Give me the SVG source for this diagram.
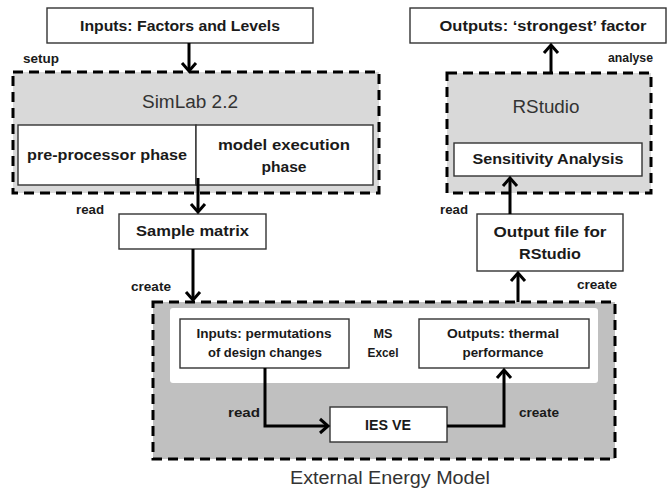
<svg xmlns="http://www.w3.org/2000/svg" width="668" height="492" viewBox="0 0 668 492">
<defs>
<style>
.grp{stroke:#000;stroke-width:3;stroke-dasharray:10 6}
.box{fill:#fff;stroke:#333;stroke-width:1.4}
.t{font-family:"Liberation Sans",Arial,sans-serif;font-weight:bold;fill:#1a1a1a;text-anchor:middle}
.lbl{font-family:"Liberation Sans",Arial,sans-serif;font-weight:bold;fill:#1a1a1a;font-size:12px}
.big{font-family:"Liberation Sans",Arial,sans-serif;fill:#333;font-size:18px;text-anchor:middle}
.c{fill:none;stroke:#000;stroke-width:3}
</style>
<marker id="ah" viewBox="0 0 14 16" refX="10" refY="8" markerWidth="14" markerHeight="16" markerUnits="userSpaceOnUse" orient="auto" overflow="visible">
<path d="M2,1 L10,8 L2,15" fill="none" stroke="#000" stroke-width="3"/>
</marker>
</defs>
<rect width="668" height="492" fill="#fff"/>

<g id="inputs-factors">
<rect class="box" x="47" y="8" width="266" height="35"/>
<text class="t" x="180" y="31" font-size="15" textLength="200" lengthAdjust="spacingAndGlyphs">Inputs: Factors and Levels</text>
</g>

<g id="outputs-strongest">
<rect class="box" x="410" y="8" width="256" height="35"/>
<text class="t" x="543" y="31" font-size="15" textLength="207" lengthAdjust="spacingAndGlyphs">Outputs: ‘strongest’ factor</text>
</g>

<g id="simlab">
<rect class="grp" x="13" y="72" width="366" height="121" fill="#d9d9d9"/>
<text class="big" x="190" y="108" textLength="96" lengthAdjust="spacingAndGlyphs">SimLab 2.2</text>
<g id="pre-processor">
<rect class="box" x="18" y="125" width="178" height="60"/>
<text class="t" x="107" y="160" font-size="15" textLength="160" lengthAdjust="spacingAndGlyphs">pre-processor phase</text>
</g>
<g id="model-execution">
<rect class="box" x="196" y="125" width="177" height="60"/>
<text class="t" x="284" y="150" font-size="15" textLength="132" lengthAdjust="spacingAndGlyphs">model execution</text>
<text class="t" x="284" y="172" font-size="15" textLength="45" lengthAdjust="spacingAndGlyphs">phase</text>
</g>
</g>

<g id="rstudio">
<rect class="grp" x="447" y="73" width="204" height="120" fill="#d9d9d9"/>
<text class="big" x="546" y="113" textLength="67" lengthAdjust="spacingAndGlyphs">RStudio</text>
<g id="sensitivity">
<rect class="box" x="454" y="143" width="188" height="33"/>
<text class="t" x="548" y="164" font-size="15" textLength="151" lengthAdjust="spacingAndGlyphs">Sensitivity Analysis</text>
</g>
</g>

<g id="sample-matrix">
<rect class="box" x="119" y="214" width="147" height="35"/>
<text class="t" x="192.5" y="236" font-size="15" textLength="113" lengthAdjust="spacingAndGlyphs">Sample matrix</text>
</g>

<g id="output-file">
<rect class="box" x="477" y="214" width="146" height="57"/>
<text class="t" x="550" y="237" font-size="15" textLength="113" lengthAdjust="spacingAndGlyphs">Output file for</text>
<text class="t" x="550" y="259" font-size="15" textLength="62" lengthAdjust="spacingAndGlyphs">RStudio</text>
</g>

<g id="external-energy-model">
<rect class="grp" x="153" y="302" width="462" height="157" fill="#c0c0c0"/>
<rect x="170" y="308" width="428" height="75" rx="3" fill="#fff"/>
<text class="big" x="390" y="484" textLength="200" lengthAdjust="spacingAndGlyphs">External Energy Model</text>
<g id="inputs-permutations">
<rect class="box" x="180" y="319" width="169" height="49"/>
<text class="t" x="264" y="338" font-size="13" textLength="135" lengthAdjust="spacingAndGlyphs">Inputs: permutations</text>
<text class="t" x="265" y="357" font-size="13" textLength="114" lengthAdjust="spacingAndGlyphs">of design changes</text>
</g>
<g id="ms-excel">
<text class="t" x="383" y="338" font-size="13" textLength="19" lengthAdjust="spacingAndGlyphs">MS</text>
<text class="t" x="383" y="357" font-size="13" textLength="31" lengthAdjust="spacingAndGlyphs">Excel</text>
</g>
<g id="outputs-thermal">
<rect class="box" x="419" y="319" width="170" height="49"/>
<text class="t" x="503" y="338" font-size="13" textLength="112" lengthAdjust="spacingAndGlyphs">Outputs: thermal</text>
<text class="t" x="503" y="357" font-size="13" textLength="81" lengthAdjust="spacingAndGlyphs">performance</text>
</g>
<g id="ies-ve">
<rect class="box" x="330" y="407" width="117" height="35"/>
<text class="t" x="388" y="430" font-size="15" textLength="46" lengthAdjust="spacingAndGlyphs">IES VE</text>
</g>
</g>

<g id="connectors">
<path class="c" d="M189,43 V71" marker-end="url(#ah)"/>
<path class="c" d="M198,178 V212" marker-end="url(#ah)"/>
<path class="c" d="M193,249 V300" marker-end="url(#ah)"/>
<path class="c" d="M265,368 V426 H328" marker-end="url(#ah)"/>
<path class="c" d="M447,426 H504 V370" marker-end="url(#ah)"/>
<path class="c" d="M518,302 V273" marker-end="url(#ah)"/>
<path class="c" d="M510,214 V178" marker-end="url(#ah)"/>
<path class="c" d="M551,73 V45" marker-end="url(#ah)"/>
<text class="lbl" x="23" y="63" textLength="36" lengthAdjust="spacingAndGlyphs">setup</text>
<text class="lbl" x="76" y="214" textLength="28" lengthAdjust="spacingAndGlyphs">read</text>
<text class="lbl" x="131" y="291" textLength="40" lengthAdjust="spacingAndGlyphs">create</text>
<text class="lbl" x="228" y="417" textLength="32" lengthAdjust="spacingAndGlyphs">read</text>
<text class="lbl" x="519" y="417" textLength="40" lengthAdjust="spacingAndGlyphs">create</text>
<text class="lbl" x="577" y="289" textLength="40" lengthAdjust="spacingAndGlyphs">create</text>
<text class="lbl" x="440" y="214" textLength="28" lengthAdjust="spacingAndGlyphs">read</text>
<text class="lbl" x="608" y="62" textLength="45" lengthAdjust="spacingAndGlyphs">analyse</text>
</g>
</svg>
